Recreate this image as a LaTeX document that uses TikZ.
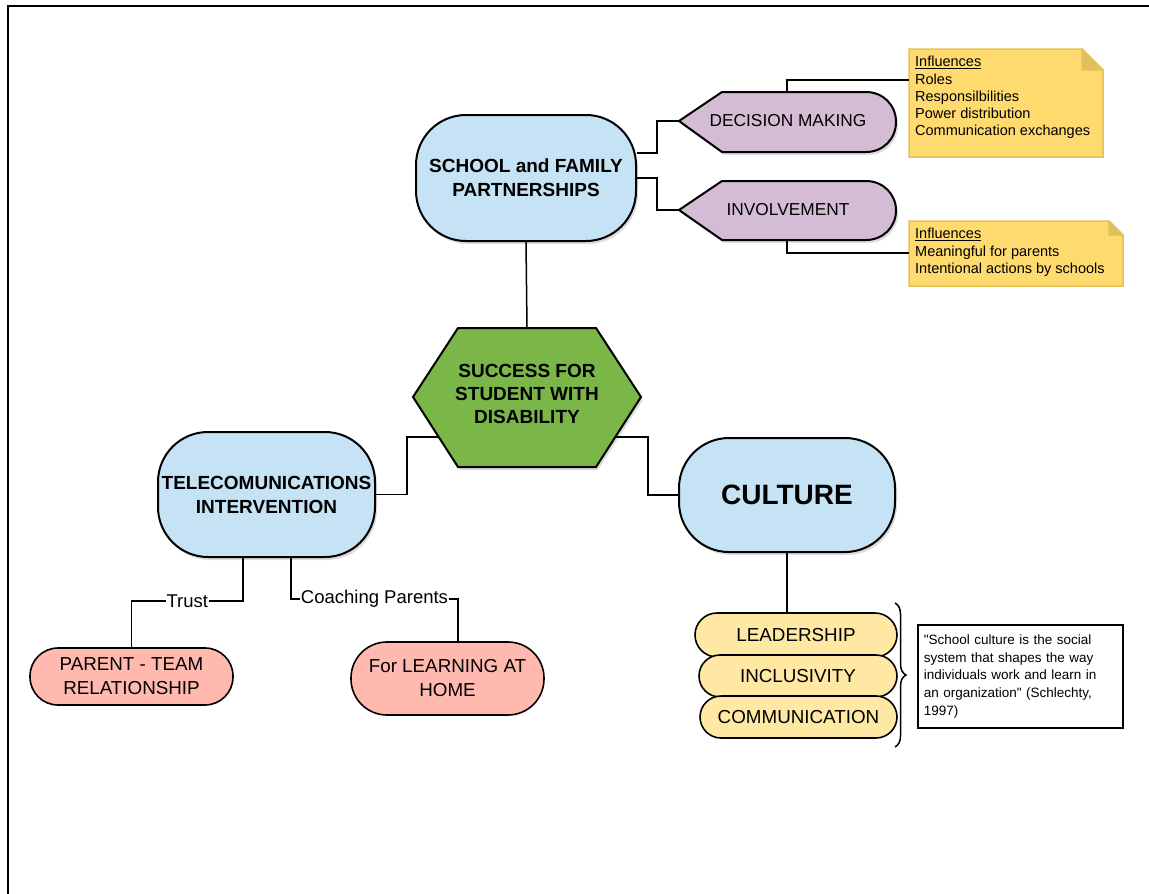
\documentclass[tikz,border=0pt]{standalone}
\usepackage{fontspec}
\setmainfont{Liberation Sans}[Ligatures=TeXOff]
\usetikzlibrary{shadows,decorations.pathreplacing}
\definecolor{lblue}{RGB}{197,227,245}
\definecolor{hgreen}{RGB}{122,182,72}
\definecolor{lpurple}{RGB}{212,188,212}
\definecolor{salmon}{RGB}{255,185,175}
\definecolor{pyellow}{RGB}{255,232,163}
\definecolor{nyellow}{RGB}{255,218,110}
\definecolor{nborder}{RGB}{228,194,88}
\definecolor{nfold}{RGB}{222,192,96}
\tikzset{
  shad/.style={drop shadow={opacity=0.28, shadow xshift=2pt, shadow yshift=-3pt}},
  bigbox/.style={draw, line width=2pt, fill=lblue, rounded corners=50pt, align=center,
     font=\bfseries\fontsize{19}{24}\selectfont, shad},
  pillbox/.style={draw, line width=1.6pt, align=center, font=\fontsize{18.8}{24}\selectfont},
  pent/.style={draw, line width=2pt, fill=lpurple, shad},
  ptext/.style={font=\fontsize{17.3}{20}\selectfont},
  conn/.style={line width=1.5pt},
  lbl/.style={fill=white, inner sep=1pt, font=\fontsize{18.5}{20}\selectfont},
  notebody/.style={draw=nborder, line width=1.5pt, fill=nyellow},
  notefold/.style={draw=nborder, line width=1.2pt, fill=nfold},
  notetext/.style={anchor=north west, inner sep=3pt, align=left, font=\fontsize{14.5}{17.3}\selectfont},
}
\begin{document}
\begin{tikzpicture}[x=1pt, y=-1pt]
\useasboundingbox (0,0) rectangle (1149,894);
% frame
\draw[line width=2pt] (8,894) -- (8,6) -- (1149,6);

% central hexagon
\draw[line width=2pt, fill=hgreen, shad] (458,328) -- (596,328) -- (641,397) -- (596,467) -- (458,467) -- (413,397) -- cycle;
\coordinate (hextop) at (527,328);
\coordinate (hexll) at (438.5,437);
\coordinate (hexlr) at (615.5,437);
\node[align=center, font=\bfseries\fontsize{19}{23}\selectfont] (hex) at (527,394) {SUCCESS FOR\\STUDENT WITH\\DISABILITY};

% main boxes
\node[bigbox, minimum width=220pt, minimum height=126pt] (school) at (526,178) {SCHOOL and FAMILY\\PARTNERSHIPS};
\node[bigbox, minimum width=217pt, minimum height=125pt] (tele) at (266.5,494.5) {TELECOMUNICATIONS\\INTERVENTION};
\node[bigbox, minimum width=216pt, minimum height=114pt, font=\bfseries\fontsize{28}{30}\selectfont] (cult) at (787,495) {CULTURE};

% decision making pentagon
\draw[pent] (679,121) -- (722,92) -- (866,92) .. controls (883,92) and (896,105) .. (896,122) .. controls (896,139) and (883,152) .. (866,152) -- (722,152) -- cycle;
\coordinate (decw) at (679,121);
\coordinate (dectop) at (787,92);
\node[ptext] (dec) at (788,121) {DECISION MAKING};

% involvement pentagon
\draw[pent] (679,210) -- (722,181) -- (866,181) .. controls (883,181) and (896,194) .. (896,210.5) .. controls (896,227) and (883,240) .. (866,240) -- (722,240) -- cycle;
\coordinate (invw) at (679,210);
\coordinate (invbot) at (787,240);
\node[ptext] (inv) at (788,209.5) {INVOLVEMENT};

% notes
\draw[notebody] (909,49) -- (1082,49) -- (1103,70) -- (1103,157) -- (909,157) -- cycle;
\draw[notefold] (1082,49) -- (1082,70) -- (1103,70) -- cycle;
\coordinate (n1w) at (909,80);
\node[notetext] (note1) at (912,53) {\underline{Influences}\\Roles\\Responsilbilities\\Power distribution\\Communication exchanges};

\draw[notebody] (909,221) -- (1109,221) -- (1123,235) -- (1123,286) -- (909,286) -- cycle;
\draw[notefold] (1109,221) -- (1109,235) -- (1123,235) -- cycle;
\coordinate (n2w) at (909,253);
\node[notetext] (note2) at (912,225) {\underline{Influences}\\Meaningful for parents\\Intentional actions by schools};

% lower pills
\node[pillbox, fill=salmon, rounded corners=28pt, minimum width=203pt, minimum height=57pt] (pt) at (131.5,676.5) {PARENT - TEAM\\RELATIONSHIP};
\node[pillbox, fill=salmon, rounded corners=36pt, minimum width=193pt, minimum height=73pt] (learn) at (447.5,678.5) {For LEARNING AT\\HOME};

% culture list
\node[pillbox, fill=pyellow, rounded corners=22pt, minimum width=202pt, minimum height=44pt] (lead) at (796,635) {LEADERSHIP};
\node[pillbox, fill=pyellow, rounded corners=21pt, minimum width=198pt, minimum height=42pt] (incl) at (798,676) {INCLUSIVITY};
\node[pillbox, fill=pyellow, rounded corners=21pt, minimum width=197pt, minimum height=42pt] (comm) at (798.5,717) {COMMUNICATION};

% brace and quote
\coordinate (brtop) at (895,603);
\coordinate (brbot) at (895,747);
\draw[line width=1.5pt, decorate, decoration={brace, amplitude=11pt}] (brtop) -- (brbot);
\node[draw, line width=1.5pt, anchor=north west, text width=193pt, minimum height=103pt, inner sep=6pt, align=left,
  font=\fontsize{13.5}{17.7}\selectfont] (quote) at (917,624)
  {"School culture is the social\\system that shapes the way\\individuals work and learn in\\an organization" (Schlechty,\\1997)};

% connectors
\draw[conn] (school.south) -- (hextop);
\draw[conn] ([yshift=25pt]school.east) -- ++(20,0) |- (decw);
\draw[conn] (school.east) -- ++(20,0) |- (invw);
\draw[conn] (dectop) |- (n1w);
\draw[conn] (invbot) |- (n2w);
\draw[conn] (hexll) -- ++(-31.5,0) |- (tele.east);
\draw[conn] (hexlr) -- ++(32.5,0) |- (cult.west);
\draw[conn] (cult.south) -- (cult.south |- lead.north);
\draw[conn] ([xshift=-23.5pt]tele.south) -- ++(0,43) -| (pt.north) node[lbl, pos=0.25] {Trust};
\draw[conn] ([xshift=24.5pt]tele.south) -- ++(0,41) -| ([xshift=10.5pt]learn.north) node[lbl, pos=0.25] {Coaching Parents};
\end{tikzpicture}
\end{document}
